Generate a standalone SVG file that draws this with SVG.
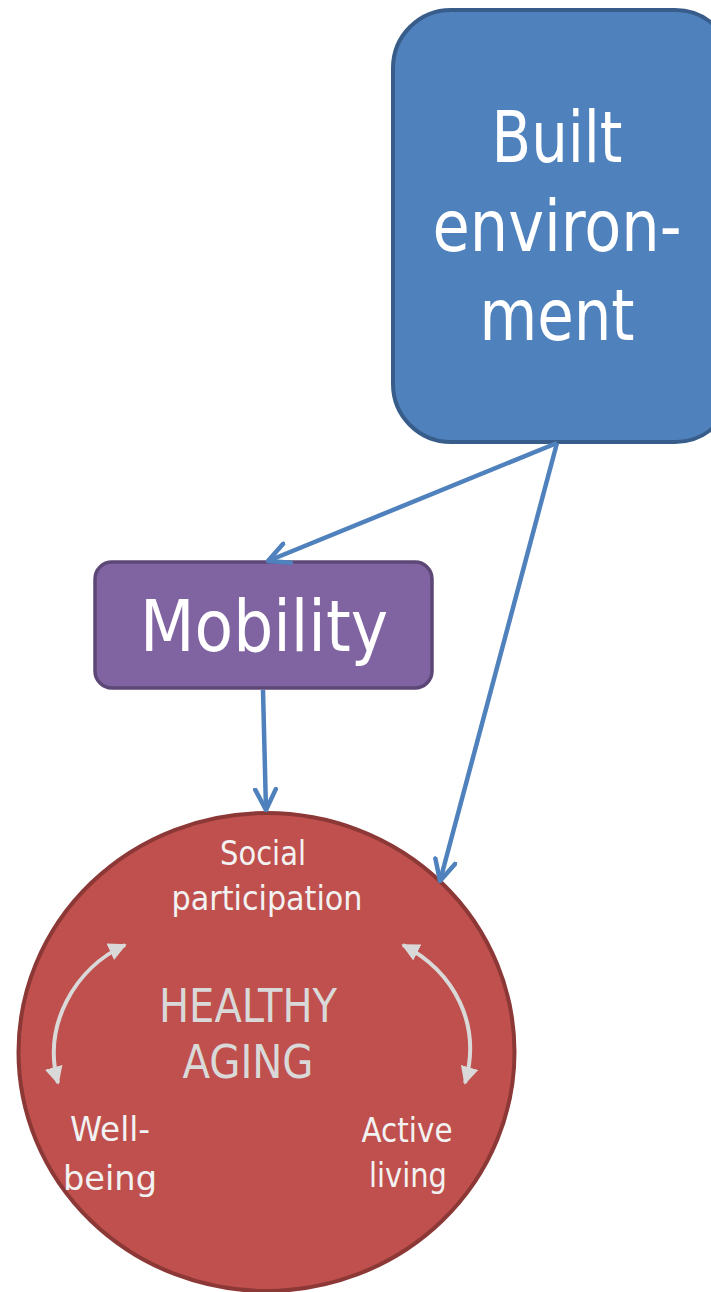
<svg xmlns="http://www.w3.org/2000/svg" width="711" height="1292" viewBox="0 0 711 1292">
<style>
.t{font-family:"DejaVu Sans Condensed","Liberation Sans",Arial,sans-serif;font-stretch:condensed;text-anchor:middle}
.big{fill:#ffffff;font-size:72px}
.small{fill:#f2f2f2;font-size:33px}
.ha{fill:#d9d9d9;font-size:46px}
.conn{stroke:#4f81bd;stroke-width:4.5;fill:none;marker-end:url(#open)}
.cyc{stroke:#d9d9d9;stroke-width:4;fill:none;marker-start:url(#tri);marker-end:url(#tri)}
</style>
<defs>
<marker id="open" viewBox="0 0 12 12" refX="11" refY="6" markerWidth="5.5" markerHeight="5.5" orient="auto" markerUnits="strokeWidth">
<path d="M1,1 L11,6 L1,11" fill="none" stroke="#4f81bd" stroke-width="2.2" stroke-linecap="round" stroke-linejoin="round"/>
</marker>
<marker id="tri" viewBox="0 0 10 10" refX="9" refY="5" markerWidth="4.5" markerHeight="4.5" orient="auto-start-reverse" markerUnits="strokeWidth">
<path d="M0,0 L10,5 L0,10 Z" fill="#d9d9d9"/>
</marker>
</defs>
<g id="built-environment">
<rect x="393" y="10" width="340" height="432" rx="58" ry="58" fill="#4f81bd" stroke="#385d8a" stroke-width="4"/>
<text class="t big" x="557" y="162" textLength="131" lengthAdjust="spacingAndGlyphs">Built</text>
<text class="t big" x="557" y="251" textLength="249" lengthAdjust="spacingAndGlyphs">environ-</text>
<text class="t big" x="557" y="340" textLength="155" lengthAdjust="spacingAndGlyphs">ment</text>
</g>
<g id="mobility">
<rect x="95" y="562" width="337" height="126" rx="17" ry="17" fill="#8064a2" stroke="#5c4776" stroke-width="3.5"/>
<text class="t big" x="264" y="651" textLength="248" lengthAdjust="spacingAndGlyphs">Mobility</text>
</g>
<g id="healthy-aging">
<ellipse cx="266.5" cy="1052" rx="248" ry="239" fill="#c0504d" stroke="#8c3836" stroke-width="4"/>
<text class="t small" x="263" y="865" textLength="86" lengthAdjust="spacingAndGlyphs">Social</text>
<text class="t small" x="267" y="910" textLength="191" lengthAdjust="spacingAndGlyphs">participation</text>
<text class="t ha" x="248" y="1022" textLength="178" lengthAdjust="spacingAndGlyphs">HEALTHY</text>
<text class="t ha" x="248" y="1078" textLength="131" lengthAdjust="spacingAndGlyphs">AGING</text>
<text class="t small" x="110" y="1141" textLength="80" lengthAdjust="spacingAndGlyphs">Well-</text>
<text class="t small" x="110" y="1190" textLength="94" lengthAdjust="spacingAndGlyphs">being</text>
<text class="t small" x="407" y="1142" textLength="91" lengthAdjust="spacingAndGlyphs">Active</text>
<text class="t small" x="408" y="1187" textLength="78" lengthAdjust="spacingAndGlyphs">living</text>
<path class="cyc" d="M125,945 C75,968 42,1025 58,1083"/>
<path class="cyc" d="M403,945 C455,972 482,1025 465,1083"/>
</g>
<g id="connectors">
<path class="conn" d="M557,443 L268,561"/>
<path class="conn" d="M557,443 L440,881"/>
<path class="conn" d="M263,690 L266,810"/>
</g>
</svg>
